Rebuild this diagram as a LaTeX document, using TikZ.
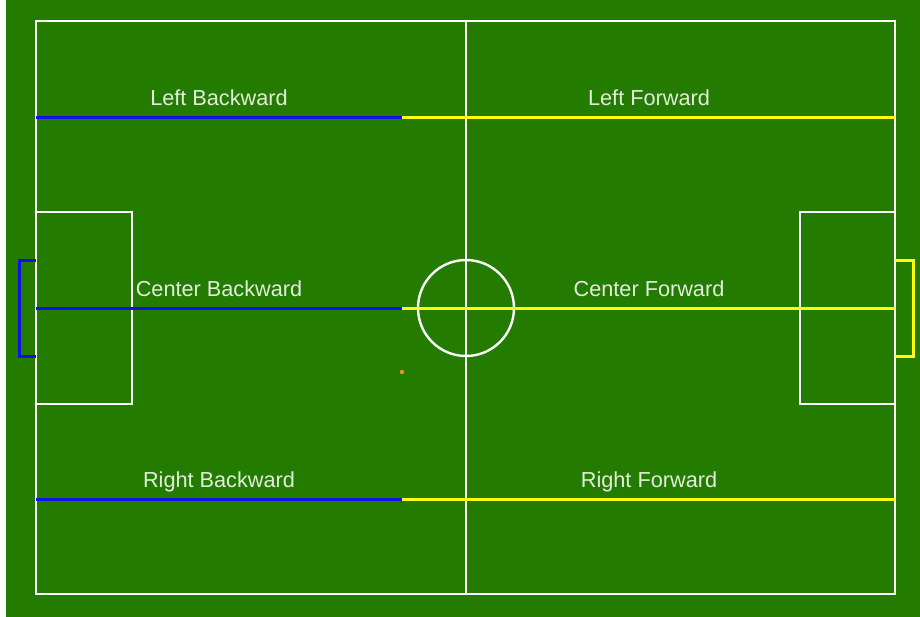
\documentclass[tikz,border=0pt]{standalone}
\usepackage{fontspec}
\setmainfont{Liberation Sans}
\usetikzlibrary{positioning, calc}
\definecolor{cgrass}{HTML}{237B00}
\definecolor{cblue}{HTML}{1010E8}
\definecolor{cyellow}{HTML}{FFFF10}
\definecolor{clabel}{HTML}{E4ECDC}
\definecolor{corange}{HTML}{F09020}
\tikzset{
  every picture/.style={x=1pt, y=-1pt},
  chalk/.style={draw=white, line width=2.4pt},
  back/.style={draw=cblue, line width=3pt},
  fwd/.style={draw=cyellow, line width=3pt},
  role/.style={font=\fontsize{21.7}{26}\selectfont, text=clabel, inner sep=1pt, anchor=base},
}

\begin{document}
\begin{tikzpicture}
  \useasboundingbox (0,0) rectangle (920,616);
  \fill[white] (0,0) rectangle (920,616);
  \fill[cgrass] (6,-2) rectangle (922,618);
  % pitch markings
  \draw[chalk] (36,21) rectangle (895,594);
  \draw[chalk] (466,21) -- (466,594);
  \draw[chalk] (466,308) circle (48);
  \draw[chalk] (36,212) rectangle (132,404);
  \draw[chalk] (800,212) rectangle (895,404);
  % goals
  \draw[back] (36,260) -- (19,260) -- (19,356) -- (36,356);
  \draw[fwd] (895,260) -- (913,260) -- (913,356) -- (895,356);
  % lanes
  \foreach \y/\lane in {117/l, 308/c, 499/r} {
    \coordinate (\lane b) at (36,\y);
    \coordinate (\lane m) at (402,\y);
    \coordinate (\lane f) at (895,\y);
    \draw[fwd] (\lane m) -- (\lane f);
    \draw[back] (\lane b) -- (\lane m);
  }
  \fill[corange] (402,372) circle (2.2);
  % labels
  \node[role] (lb) at (219,105.5) {Left Backward};
  \node[role] (lf) at (649,105.5) {Left Forward};
  \node[role] (cb) at (219,296.5) {Center Backward};
  \node[role] (cf) at (649,296.5) {Center Forward};
  \node[role] (rb) at (219,487.5) {Right Backward};
  \node[role] (rf) at (649,487.5) {Right Forward};
\end{tikzpicture}
\end{document}
